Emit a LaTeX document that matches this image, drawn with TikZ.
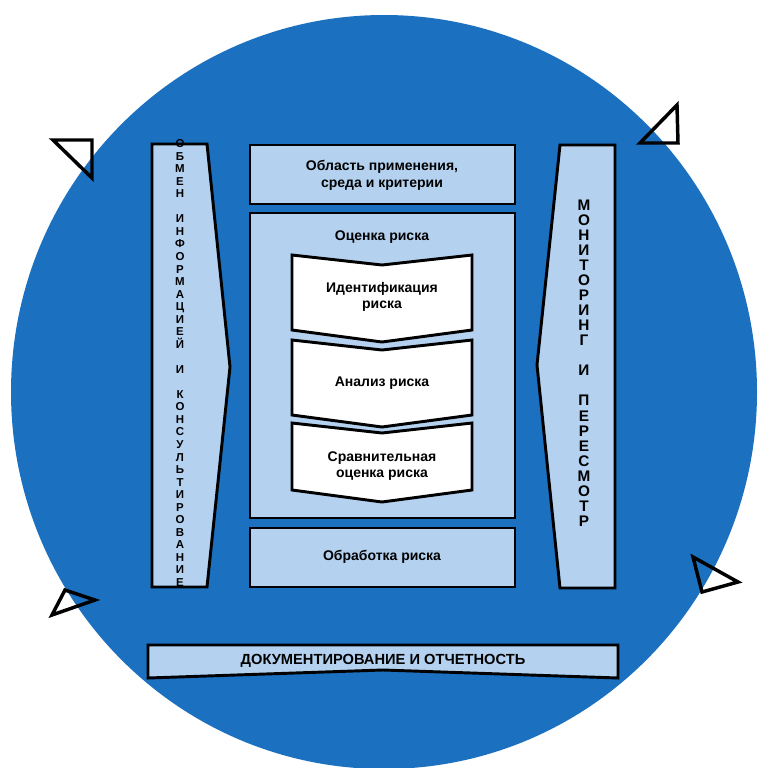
\documentclass[tikz,border=0pt]{standalone}
\usepackage{fontspec}
\setmainfont{Liberation Sans}
\begin{document}
\begin{tikzpicture}[x=0.75pt,y=-0.75pt,
  box/.style={draw=black,line width=2.2pt,fill=lightb,line join=miter},
  wbox/.style={draw=black,line width=2.2pt,fill=white},
  tri/.style={draw=black,line width=2.6pt,fill=white,fill opacity=0,line join=miter},
  lbl/.style={font=\bfseries\fontsize{10.5}{12.5}\selectfont,align=center,text=black}]
\definecolor{bluec}{HTML}{1B70C0}
\definecolor{lightb}{HTML}{B4D2F0}
\useasboundingbox (0,0) rectangle (766,768);
\fill[bluec] (384,392) ellipse (373 and 377);
% triangles
\draw[tri] (53,140) -- (92,140) -- (92,178) -- cycle;
\draw[tri] (640,143) -- (677,105) -- (678,143) -- cycle;
\draw[tri] (65,590) -- (95,600) -- (52,615) -- cycle;
\draw[tri] (693,557) -- (738,582) -- (702,592) -- cycle;
% side bars
\draw[box] (152,144) -- (207,144) -- (230,367) -- (207,587) -- (152,587) -- cycle;
\node[font=\bfseries\fontsize{8.6}{9.4}\selectfont,align=center,inner sep=0] (left) at (180,363)
 {О\\Б\\М\\Е\\Н\\[9.4pt]И\\Н\\Ф\\О\\Р\\М\\А\\Ц\\И\\Е\\Й\\[9.4pt]И\\[9.4pt]К\\О\\Н\\С\\У\\Л\\Ь\\Т\\И\\Р\\О\\В\\А\\Н\\И\\Е};
\draw[box] (560,145) -- (615,145) -- (615,588) -- (560,588) -- (537,365) -- cycle;
\node[font=\bfseries\fontsize{11.5}{11.3}\selectfont,align=center,inner sep=0] (right) at (584,363)
 {М\\О\\Н\\И\\Т\\О\\Р\\И\\Н\\Г\\[11.3pt]И\\[11.3pt]П\\Е\\Р\\Е\\С\\М\\О\\Т\\Р};
% centre boxes
\draw[box] (250,145) rectangle (515,204);
\node[lbl] (scope) at (382,175) {Область применения,\\среда и критерии};
\draw[box] (250,213) rectangle (515,518);
\node[lbl] (assess) at (382,237) {Оценка риска};
\draw[wbox] (292,255) -- (382,265) -- (472,255) -- (472,330) -- (382,342) -- (292,330) -- cycle;
\node[lbl] (ident) at (382,297) {Идентификация\\риска};
\draw[wbox] (292,340) -- (382,350) -- (472,340) -- (472,415) -- (382,427) -- (292,415) -- cycle;
\node[lbl] (anal) at (382,383) {Анализ риска};
\draw[wbox] (292,423) -- (382,433) -- (472,423) -- (472,490) -- (382,502) -- (292,490) -- cycle;
\node[lbl] (eval) at (382,466) {Сравнительная\\оценка риска};
\draw[box] (250,528) rectangle (515,587);
\node[lbl] (treat) at (382,557) {Обработка риска};
% bottom banner
\draw[box] (148,645) -- (618,645) -- (618,678) -- (383,670) -- (148,678) -- cycle;
\node[lbl,font=\bfseries\fontsize{11}{13}\selectfont] (doc) at (383,661) {ДОКУМЕНТИРОВАНИЕ И ОТЧЕТНОСТЬ};
\end{tikzpicture}
\end{document}
